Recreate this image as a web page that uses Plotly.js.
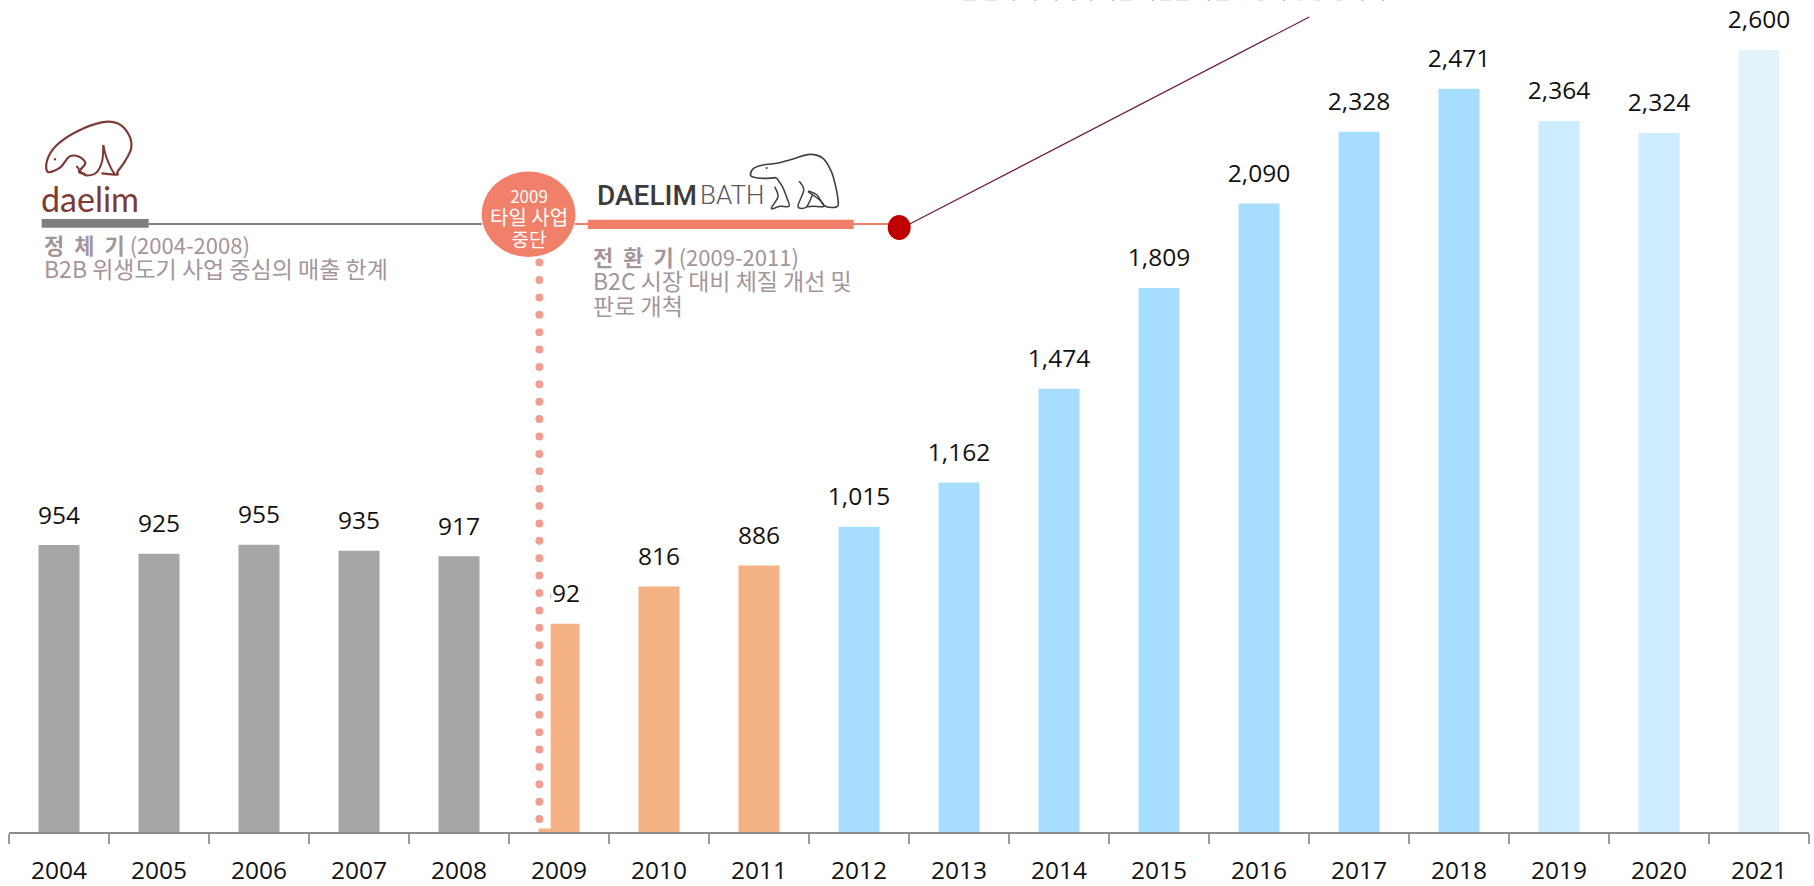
<!DOCTYPE html>
<html><head><meta charset="utf-8">
<script src="https://cdn.plot.ly/plotly-3.0.1.min.js"></script>
<style>html,body{margin:0;padding:0;background:#fff;overflow:hidden}</style></head>
<body><div id="chart" style="width:1814px;height:886px"></div>
<script>
const years = ['2004','2005','2006','2007','2008','2009','2010','2011','2012','2013','2014','2015','2016','2017','2018','2019','2020','2021'];
const sales = [954,925,955,935,917,692,816,886,1015,1162,1474,1809,2090,2328,2471,2364,2324,2600];
const salesLabels = ['954','925','955','935','917','692','816','886','1,015','1,162','1,474','1,809','2,090','2,328','2,471','2,364','2,324','2,600'];
const barColors = ['#a6a6a6','#a6a6a6','#a6a6a6','#a6a6a6','#a6a6a6','#f4b183','#f4b183','#f4b183','#a7ddff','#a7ddff','#a7ddff','#a7ddff','#a7ddff','#a7ddff','#a7ddff','#cdecff','#cdecff','#e3f3fb'];
const LABEL_GAP = 92;

const FONT = '"Open Sans","Noto Sans CJK KR",sans-serif';
const KR = '"Noto Sans CJK KR","Open Sans",sans-serif';
const X0 = 9.3, W = 1800, H = 832;
const px = v => (v - X0) / W, py = v => (H - v) / H;

function rect(x0,y0,x1,y1,color){return {type:'rect',xref:'paper',yref:'paper',x0:px(x0),x1:px(x1),y0:py(y0),y1:py(y1),fillcolor:color,line:{width:0}};}
function oval(x0,y0,x1,y1,color){return {type:'circle',xref:'paper',yref:'paper',x0:px(x0),x1:px(x1),y0:py(y0),y1:py(y1),fillcolor:color,line:{width:0}};}
function seg(x0,y0,x1,y1,color,w){return {type:'line',xref:'paper',yref:'paper',x0:px(x0),x1:px(x1),y0:py(y0),y1:py(y1),line:{color:color,width:w}};}
// smooth open curve through traced points (Catmull-Rom)
function curve(pts,color,w,ox,oy,sx,sy){
  const p = pts.map(a=>[ox+a[0]/sx, oy+a[1]/sy]);
  const f = a => px(a[0]).toFixed(5)+','+py(a[1]).toFixed(5);
  let d = 'M'+f(p[0]);
  for(let i=0;i<p.length-1;i++){
    const a=p[Math.max(i-1,0)],b=p[i],c=p[i+1],e=p[Math.min(i+2,p.length-1)];
    d+=' C'+f([b[0]+(c[0]-a[0])/6,b[1]+(c[1]-a[1])/6])+' '+f([c[0]-(e[0]-b[0])/6,c[1]-(e[1]-b[1])/6])+' '+f(c);
  }
  return {type:'path',xref:'paper',yref:'paper',path:d,line:{color:color,width:w},fillcolor:'rgba(0,0,0,0)'};
}
function note(text,x,y,size,color,o){
  return Object.assign({xref:'paper',yref:'paper',x:px(x),y:py(y),text:text,showarrow:false,xanchor:'left',yanchor:'middle',align:'left',borderpad:0,
    font:{family:KR,size:size,color:color}},o||{});
}
const big = (t,s) => '<span style="font-size:'+s+'px">'+t+'</span>';

const shapes = [];
// band hiding the left of the 2009 bar, then the dotted marker
shapes.push(rect(519,150,551,828.5,'#ffffff'));
for(let i=0;i<33;i++){const c=262.6+i*17.39; shapes.push(oval(535.7,c-4,543.7,c+4,'#ee9f92'));}
// timeline
shapes.push(seg(149,224,482,224,'#8f7a80',2));
shapes.push(rect(42,219,149,227.7,'#7f7f7f'));
shapes.push(seg(575,224,890,224,'#f08069',2));
shapes.push(rect(588,219.7,854,229,'#f08069'));
shapes.push(oval(482,171.5,575.7,257,'#f08069'));
shapes.push(seg(910,224,1309.6,17,'#6e1f3f',1.3));
shapes.push(oval(888,215,911,240,'#c00000'));
const B1='#7e3a35', o1=[0,90,2.8,3];
shapes.push(curve([[240,252],[222,245],[240,220],[222,200],[195,200],[170,232],[135,246],[133,210],[160,165],[215,125],[285,97],[330,100],[362,135],[368,175],[350,215],[330,245],[328,254],[285,250]],B1,2.2,...o1));
shapes.push(curve([[290,165],[298,200],[312,235],[322,252]],B1,2,...o1));
shapes.push(curve([[290,165],[287,212],[270,248],[238,255],[215,228]],B1,2,...o1));
shapes.push(oval(54,158,56.5,160.5,B1));
// bath bear
const B2='#3f3f3f', o2=[590,145,3,3];
shapes.push(curve([[560,98],[520,100],[490,96],[482,88],[492,70],[520,60],[560,55],[610,42],[660,28],[700,40],[725,80],[738,125],[745,165],[742,185],[705,183],[682,150],[655,138]],B2,1.6,...o2));
shapes.push(curve([[560,98],[578,125],[592,160],[598,184],[570,184],[545,190],[565,155],[555,125]],B2,1.5,...o2));
shapes.push(curve([[628,108],[642,135],[625,184],[650,186],[668,150]],B2,1.5,...o2));
shapes.push(curve([[655,140],[690,165],[702,184],[670,184],[650,186]],B2,1.5,...o2));
shapes.push(oval(766,167,768,169,B2));

const TXT='#a5949b';
const annotations = [
  note('daelim',40,198,34,B1,{font:{family:'Lato,sans-serif',size:34,color:B1}}),
  note('DAELIM',596,195,28,'#3c3c3c',{font:{family:'Roboto,sans-serif',size:28,color:'#3c3c3c',weight:500}}),
  note('BATH',699,195,26,'#555555',{font:{family:'Roboto,sans-serif',size:26,color:'#5a5a5a',weight:300}}),
  note(big('<b>정&nbsp;&nbsp;체&nbsp;&nbsp;기</b> (2004-2008)',22)+'<br>'+big('B2B 위생도기 사업 중심의 매출 한계',23),43,256,18.5,TXT),
  note(big('<b>전&nbsp;&nbsp;환&nbsp;&nbsp;기</b> (2009-2011)',22)+'<br>'+big('B2C 시장 대비 체질 개선 및',23)+'<br>'+big('판로 개척',23),592,281,18.8,TXT),
  note(big('2009',17)+'<br>'+big('타일 사업',20)+'<br>'+big('중단',19),528.8,217,17,'#ffffff',{xanchor:'center',align:'center'}),
  note('한 단계 더 나아가 사업 기반을 다진 중장기 성장 동력 확보',1183,-9.5,19,TXT,{xanchor:'center'})
];

const data = [
  {type:'bar',x:years,y:sales,marker:{color:barColors,line:{width:0}},hoverinfo:'x+y',showlegend:false},
  {type:'scatter',mode:'text',x:years,y:sales.map(v=>v+LABEL_GAP),text:salesLabels,textposition:'middle center',
   textfont:{family:FONT,size:24.5,color:'#111111'},hoverinfo:'skip',showlegend:false,cliponaxis:false}
];
const layout = {
  width:1814,height:886,margin:{l:X0,r:1814-X0-W,t:0,b:886-H,pad:0},
  paper_bgcolor:'#fff',plot_bgcolor:'#fff',bargap:0.59,showlegend:false,
  xaxis:{type:'category',categoryorder:'array',categoryarray:years,range:[-0.5,17.5],tickson:'boundaries',ticks:'outside',ticklen:10,tickwidth:1.5,tickcolor:'#9a9a9a',
    showline:true,linecolor:'#8c8c8c',linewidth:2,showgrid:false,zeroline:false,ticklabelstandoff:16,tickfont:{family:FONT,size:24.5,color:'#111111'},fixedrange:true},
  yaxis:{visible:false,range:[0,H/(782/2600)],showgrid:false,zeroline:false,fixedrange:true},
  shapes:shapes,annotations:annotations
};
Plotly.newPlot('chart',data,layout,{displayModeBar:false});
</script></body></html>
